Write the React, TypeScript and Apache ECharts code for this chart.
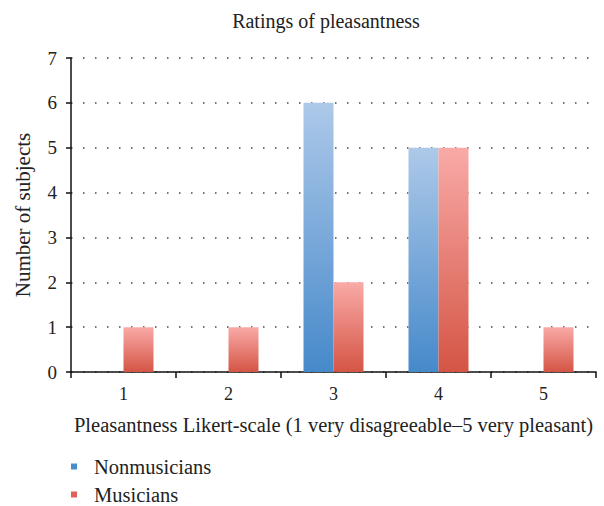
import React, { useEffect, useRef } from "react";
import * as echarts from "echarts";

const categories = ["1", "2", "3", "4", "5"];
const nonmusicians = [0, 0, 6, 5, 0];
const musicians = [1, 1, 2, 5, 1];
const yTicks = [0, 1, 2, 3, 4, 5, 6, 7];

const FONT = "Liberation Serif";

export default function App() {
  const ref = useRef<HTMLDivElement>(null);
  useEffect(() => {
    if (!ref.current) return;
    const chart = echarts.init(ref.current, undefined, { renderer: "svg" });
    const grad = (top: string, bottom: string) =>
      new echarts.graphic.LinearGradient(0, 0, 0, 1, [
        { offset: 0, color: top },
        { offset: 1, color: bottom },
      ]);
    chart.setOption({
      animation: false,
      backgroundColor: "#ffffff",
      textStyle: { fontFamily: FONT },
      title: {
        text: "Ratings of pleasantness",
        left: 321,
        textAlign: "center",
        top: 6,
        textStyle: { fontFamily: FONT, fontSize: 20, fontWeight: "normal", color: "#222" },
      },
      legend: {
        orient: "vertical",
        left: 66,
        bottom: -4,
        icon: "rect",
        itemWidth: 6,
        itemHeight: 6,
        itemGap: 7,
        textStyle: { fontFamily: FONT, fontSize: 20.5, color: "#222", padding: [0, 0, 0, 12] },
        data: [
          { name: "Nonmusicians", itemStyle: { color: "#4a8dcf" } },
          { name: "Musicians", itemStyle: { color: "#e0625a" } },
        ],
      },
      grid: { left: 71, right: 8, top: 58, bottom: 134, containLabel: false },
      xAxis: {
        type: "category",
        data: categories,
        boundaryGap: true,
        name: "Pleasantness Likert-scale (1 very disagreeable\u20135 very pleasant)",
        nameLocation: "middle",
        nameGap: 42,
        nameTextStyle: { fontFamily: FONT, fontSize: 20.5, color: "#222" },
        axisLine: { lineStyle: { color: "#111", width: 1.5 } },
        axisTick: { show: true, length: 6, lineStyle: { color: "#111", width: 1.5 } },
        axisLabel: { fontFamily: FONT, fontSize: 18, color: "#222", margin: 13 },
      },
      yAxis: {
        type: "value",
        min: 0,
        max: 7,
        interval: 1,
        name: "Number of subjects",
        nameLocation: "middle",
        nameGap: 38,
        nameTextStyle: { fontFamily: FONT, fontSize: 21, color: "#222" },
        axisLine: { show: true, lineStyle: { color: "#111", width: 1.5 } },
        axisTick: { show: true, length: 5, lineStyle: { color: "#111", width: 1.5 } },
        axisLabel: {
          fontFamily: FONT,
          fontSize: 19,
          color: "#222",
          margin: 14,
          formatter: (v: number) => (yTicks.includes(v) ? String(v) : ""),
        },
        splitLine: {
          show: true,
          lineStyle: { color: "#444", width: 1.5, type: [1.5, 10.5] },
        },
      },
      series: [
        {
          name: "Nonmusicians",
          type: "bar",
          data: nonmusicians,
          barWidth: 30,
          barGap: "0%",
          itemStyle: { color: grad("#adc9e9", "#4689ca") },
        },
        {
          name: "Musicians",
          type: "bar",
          data: musicians,
          barWidth: 30,
          barGap: "0%",
          itemStyle: { color: grad("#f9aaa7", "#d45545") },
        },
      ],
    });
    return () => chart.dispose();
  }, []);
  return <div ref={ref} style={{ width: 604, height: 506, position: "absolute", left: 0, top: 0 }} />;
}
